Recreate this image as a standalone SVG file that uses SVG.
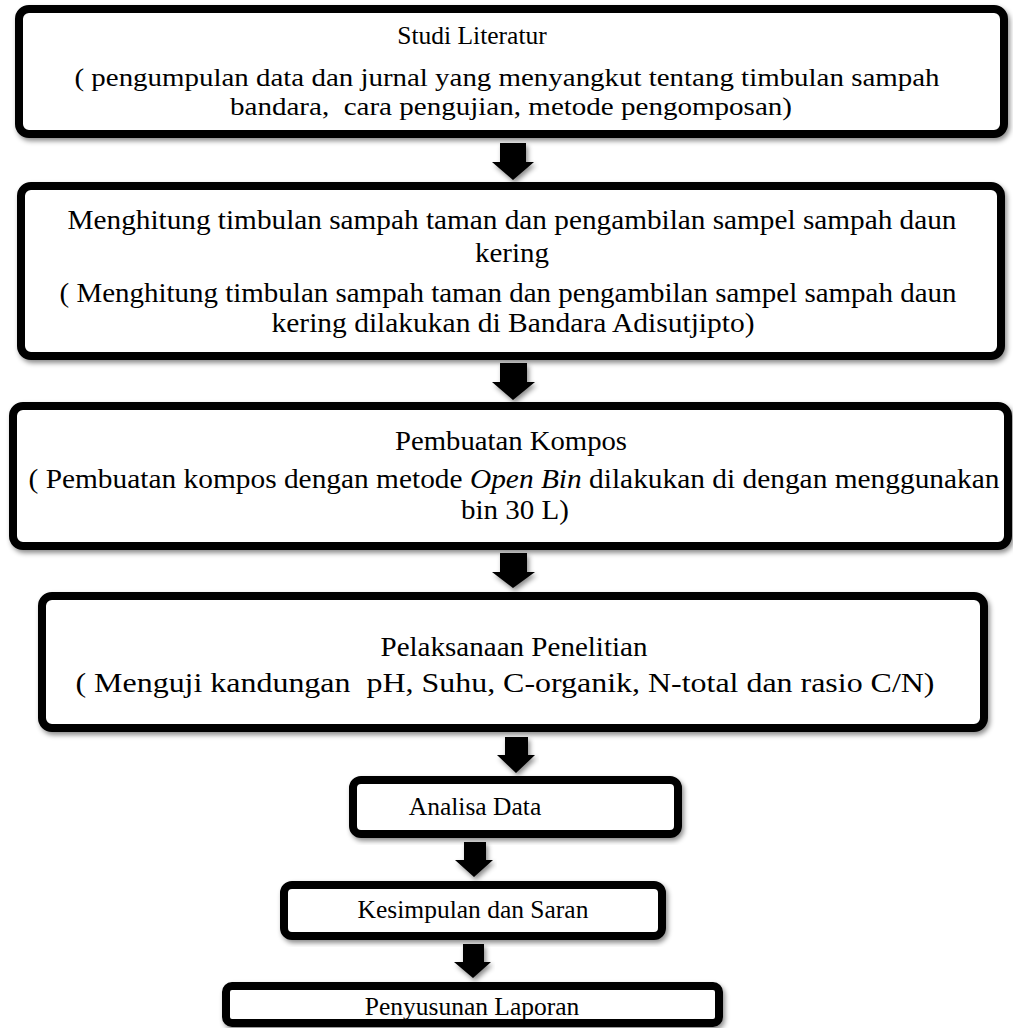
<svg xmlns="http://www.w3.org/2000/svg" width="1013" height="1028" viewBox="0 0 1013 1028">
<defs>
<filter id="sh" x="-10%" y="-20%" width="120%" height="140%">
<feDropShadow dx="2" dy="3" stdDeviation="2.5" flood-color="#000" flood-opacity="0.45"/>
</filter>
<style>
.box{fill:#fff;stroke:#000;stroke-width:8;filter:url(#sh)}
.arr{fill:#000;stroke:none;filter:url(#sh)}
.t{font-family:'Liberation Serif','Times New Roman',Times,serif;font-size:26.5px;fill:#000;text-anchor:middle}
.s{font-size:25.5px}
.c{font-size:26px}
</style>
</defs>
<rect width="1013" height="1028" fill="#fff"/>
<g id="connectors">
<polygon class="arr" points="500,143 526,143 526,162 534,162 513,180 492,162 500,162"/>
<polygon class="arr" points="500,363 527,363 527,382 535,382 513,400 492,382 500,382"/>
<polygon class="arr" points="500,553 527,553 527,572 535,572 513,588 492,572 500,572"/>
<polygon class="arr" points="505,737 528,737 528,755 535,755 516,773 497,755 505,755"/>
<polygon class="arr" points="464,842 486,842 486,860 493,860 474,877 455,860 464,860"/>
<polygon class="arr" points="463,944 484,944 484,962 491,962 473,978 454,962 463,962"/>
</g>
<g id="n1">
<rect class="box" x="19" y="9" width="985" height="125" rx="10"/>
<text class="t s" x="472" y="44">Studi Literatur</text>
<text class="t c" x="507" y="86" textLength="865" lengthAdjust="spacingAndGlyphs">( pengumpulan data dan jurnal yang menyangkut tentang timbulan sampah</text>
<text class="t c" x="511" y="115" xml:space="preserve" textLength="562" lengthAdjust="spacingAndGlyphs">bandara,  cara pengujian, metode pengomposan)</text>
</g>
<g id="n2">
<rect class="box" x="21" y="186" width="980" height="170" rx="10"/>
<text class="t" x="512" y="229" textLength="889" lengthAdjust="spacingAndGlyphs">Menghitung timbulan sampah taman dan pengambilan sampel sampah daun</text>
<text class="t" x="512" y="262" textLength="74" lengthAdjust="spacingAndGlyphs">kering</text>
<text class="t" x="508" y="302" textLength="897" lengthAdjust="spacingAndGlyphs">( Menghitung timbulan sampah taman dan pengambilan sampel sampah daun</text>
<text class="t" x="513" y="332" textLength="483" lengthAdjust="spacingAndGlyphs">kering dilakukan di Bandara Adisutjipto)</text>
</g>
<g id="n3">
<rect class="box" x="13" y="406" width="995" height="140" rx="10"/>
<text class="t" x="511" y="450" textLength="232" lengthAdjust="spacingAndGlyphs">Pembuatan Kompos</text>
<text class="t" x="514" y="488" textLength="971" lengthAdjust="spacingAndGlyphs">( Pembuatan kompos dengan metode <tspan font-style="italic">Open Bin</tspan> dilakukan di dengan menggunakan</text>
<text class="t" x="515" y="519" textLength="108" lengthAdjust="spacingAndGlyphs">bin 30 L)</text>
</g>
<g id="n4">
<rect class="box" x="42" y="596" width="942" height="132" rx="10"/>
<text class="t" x="514" y="656" textLength="267" lengthAdjust="spacingAndGlyphs">Pelaksanaan Penelitian</text>
<text class="t" x="505" y="692" xml:space="preserve" style="font-size:28px" textLength="859" lengthAdjust="spacingAndGlyphs">( Menguji kandungan  pH, Suhu, C-organik, N-total dan rasio C/N)</text>
</g>
<g id="n5">
<rect class="box" x="353" y="780" width="325" height="54" rx="8"/>
<text class="t s" x="475" y="815">Analisa Data</text>
</g>
<g id="n6">
<rect class="box" x="284" y="885" width="378" height="51" rx="8"/>
<text class="t s" x="473" y="918">Kesimpulan dan Saran</text>
</g>
<g id="n7">
<rect class="box" x="226" y="986" width="493" height="37" rx="6"/>
<text class="t s" x="472" y="1015">Penyusunan Laporan</text>
</g>
</svg>
